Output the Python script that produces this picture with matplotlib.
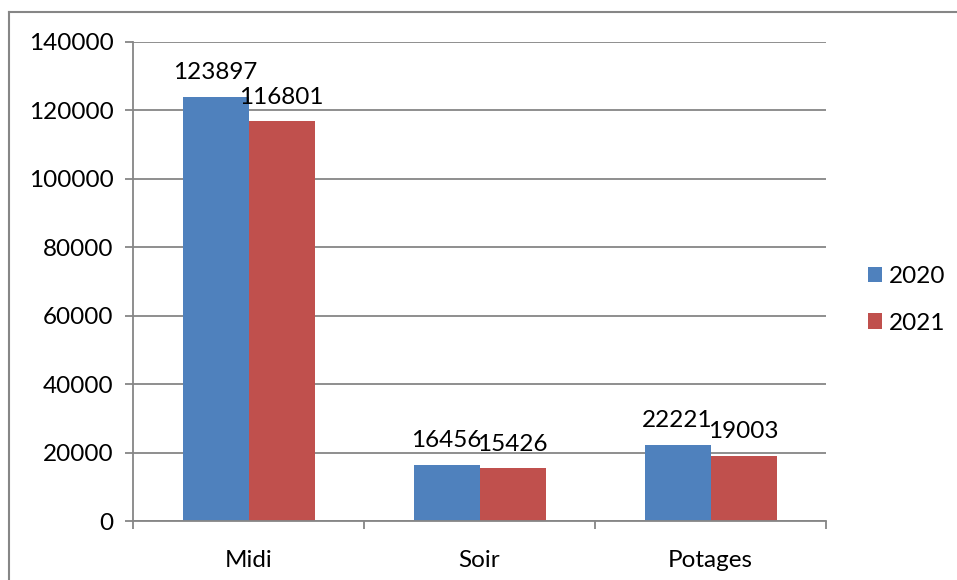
import numpy as np
import matplotlib.pyplot as plt
from matplotlib.lines import Line2D

plt.rcParams['font.family'] = ['Lato', 'DejaVu Sans']

categories = ['Midi', 'Soir', 'Potages']
series = ['2020', '2021']
values_2020 = [123897, 16456, 22221]
values_2021 = [116801, 15426, 19003]
colors = ['#4F81BD', '#C0504D']
grid_color = '#868686'
fs = 17.5

W, H = 957, 580
fig = plt.figure(figsize=(W / 100, H / 100), dpi=100)
ax = fig.add_axes([133 / W, 1 - 521 / H, (826 - 133) / W, (521 - 42) / H])

x = np.arange(len(categories))
width = 1 / 1.75 / 2
for i, (vals, col) in enumerate(zip([values_2020, values_2021], colors)):
    pos = x + (i - 0.5) * width
    ax.bar(pos, vals, width, color=col, label=series[i], zorder=3)
    for p, v in zip(pos, vals):
        ax.text(p, v + 4000, str(v), ha='center', va='bottom', fontsize=fs, zorder=4)

ax.set_xlim(-0.5, 2.5)
ax.set_ylim(0, 140000)
ax.set_yticks(np.arange(0, 140001, 20000))
ax.yaxis.grid(True, color=grid_color, linewidth=1.3, zorder=0)
ax.set_xticks(x)
ax.set_xticklabels(categories)
ax.set_xticks([-0.5, 0.5, 1.5, 2.5], minor=True)
ax.tick_params(axis='x', which='major', length=0, pad=21, labelsize=fs)
ax.tick_params(axis='x', which='minor', length=6, width=1.3, color=grid_color, direction='out')
ax.tick_params(axis='y', length=6, width=1.3, color=grid_color, pad=8, labelsize=fs)
for s in ['top', 'right']:
    ax.spines[s].set_visible(False)
for s in ['left', 'bottom']:
    ax.spines[s].set_color(grid_color)
    ax.spines[s].set_linewidth(1.3)
ax.spines['bottom'].set_zorder(5)

# legend
leg = ax.legend(loc='center left', bbox_to_anchor=(846 / W, 1 - 300 / H),
                bbox_transform=fig.transFigure, frameon=False, fontsize=fs,
                handlelength=0.6, handleheight=0.6, handletextpad=0.25, labelspacing=1.05)

# outer border (left and top only visible)
fig.add_artist(Line2D([9 / W, 9 / W], [0, 1 - 12 / H], transform=fig.transFigure,
                      color=grid_color, linewidth=1.5))
fig.add_artist(Line2D([9 / W, 1], [1 - 12 / H, 1 - 12 / H], transform=fig.transFigure,
                      color=grid_color, linewidth=1.5))

fig.savefig('out.png', dpi=100)
